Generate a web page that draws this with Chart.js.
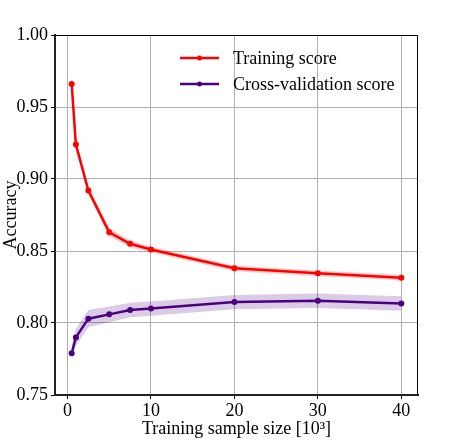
<!DOCTYPE html>
<html>
<head>
<meta charset="utf-8">
<script src="https://cdn.jsdelivr.net/npm/chart.js@4.4.0/dist/chart.umd.min.js"></script>
<style>
  html, body { margin: 0; padding: 0; background: #fff; }
  #wrap { width: 462px; height: 440px; }
</style>
</head>
<body>
<div id="wrap"><canvas id="curveChart" width="462" height="440"></canvas></div>
<script>
// === Data learning curve ===
const sampleSizes = [0.5, 1, 2.5, 5, 7.5, 10, 20, 30, 40];
const trainScore = [0.966, 0.924, 0.892, 0.863, 0.855, 0.851, 0.838, 0.8345, 0.8315];
const trainStd = [0.004, 0.003, 0.003, 0.003, 0.0025, 0.002, 0.002, 0.002, 0.002];
const cvScore = [0.779, 0.790, 0.803, 0.806, 0.809, 0.810, 0.8145, 0.8155, 0.8135];
const cvStd = [0.005, 0.006, 0.006, 0.0055, 0.005, 0.005, 0.005, 0.005, 0.005];
const xTicks = [0, 10, 20, 30, 40];
const yTicks = [0.75, 0.80, 0.85, 0.90, 0.95, 1.00];

const RED = "#ff0000";
const PURPLE = "#4b0082";
const FONT = "'Liberation Serif', 'DejaVu Serif', serif";

const pts = (ys) => sampleSizes.map((x, i) => ({ x: x, y: ys[i] }));
const band = (ys, sd, sign) => sampleSizes.map((x, i) => ({ x: x, y: ys[i] + sign * sd[i] }));

// legend custom di dalam area plot (garis + titik)
const insideLegend = {
  id: "insideLegend",
  afterDraw(chart) {
    const c = chart.ctx;
    const area = chart.chartArea;
    // kotak tipis atas & kanan
    c.save();
    c.strokeStyle = "#000";
    c.lineWidth = 1;
    c.beginPath();
    c.moveTo(area.left, area.top + 0.5);
    c.lineTo(area.right - 0.5, area.top + 0.5);
    c.lineTo(area.right - 0.5, area.bottom);
    c.stroke();

    const items = [
      { label: "Training score", color: RED },
      { label: "Cross-validation score", color: PURPLE }
    ];
    c.font = "18px " + FONT;
    c.textBaseline = "middle";
    items.forEach((it, i) => {
      const y = 58 + i * 26;
      c.strokeStyle = it.color;
      c.lineWidth = 2.5;
      c.beginPath();
      c.moveTo(180, y);
      c.lineTo(219, y);
      c.stroke();
      c.fillStyle = it.color;
      c.beginPath();
      c.arc(199.5, y, 2.5, 0, Math.PI * 2);
      c.fill();
      c.fillStyle = "#000";
      c.fillText(it.label, 233, y + 1);
    });
    c.restore();
  }
};

const ctx = document.getElementById("curveChart");
new Chart(ctx, {
  type: "line",
  data: {
    datasets: [
      {
        label: "Training score",
        data: pts(trainScore),
        borderColor: RED,
        backgroundColor: RED,
        borderWidth: 2.5,
        pointRadius: 3,
        pointBorderWidth: 0,
        pointHoverRadius: 3,
        fill: false
      },
      {
        label: "Cross-validation score",
        data: pts(cvScore),
        borderColor: PURPLE,
        backgroundColor: PURPLE,
        borderWidth: 2.5,
        pointRadius: 3,
        pointBorderWidth: 0,
        pointHoverRadius: 3,
        fill: false
      },
      {
        label: "train upper",
        data: band(trainScore, trainStd, 1),
        borderWidth: 0,
        pointRadius: 0,
        backgroundColor: "rgba(255, 0, 0, 0.2)",
        fill: "+1"
      },
      {
        label: "train lower",
        data: band(trainScore, trainStd, -1),
        borderWidth: 0,
        pointRadius: 0,
        fill: false
      },
      {
        label: "cv upper",
        data: band(cvScore, cvStd, 1),
        borderWidth: 0,
        pointRadius: 0,
        backgroundColor: "rgba(75, 0, 130, 0.2)",
        fill: "+1"
      },
      {
        label: "cv lower",
        data: band(cvScore, cvStd, -1),
        borderWidth: 0,
        pointRadius: 0,
        fill: false
      }
    ]
  },
  options: {
    responsive: false,
    animation: false,
    layout: { padding: { top: 35, right: 44, left: 0, bottom: 0 } },
    plugins: {
      legend: { display: false },
      tooltip: { enabled: false }
    },
    scales: {
      x: {
        type: "linear",
        min: -1.5,
        max: 42,
        afterBuildTicks: (s) => { s.ticks = xTicks.map(v => ({ value: v })); },
        afterFit: (s) => { s.height = 45; },
        ticks: {
          color: "#000",
          font: { family: FONT, size: 18 },
          padding: 1,
          maxRotation: 0
        },
        grid: { color: "#b0b0b0", lineWidth: 1, tickColor: "#000", tickLength: 4 },
        border: { color: "#222", width: 2 },
        title: {
          display: true,
          text: "Training sample size [10³]",
          color: "#000",
          font: { family: FONT, size: 18 },
          padding: { top: 3, bottom: 0 }
        }
      },
      y: {
        min: 0.75,
        max: 1.0,
        afterBuildTicks: (s) => { s.ticks = yTicks.map(v => ({ value: v })); },
        afterFit: (s) => { s.width = 55; },
        ticks: {
          color: "#000",
          font: { family: FONT, size: 18 },
          padding: 3,
          callback: (v) => v.toFixed(2)
        },
        grid: { color: "#b0b0b0", lineWidth: 1, tickColor: "#000", tickLength: 4 },
        border: { color: "#222", width: 2 },
        title: {
          display: true,
          text: "Accuracy",
          color: "#000",
          font: { family: FONT, size: 18 },
          padding: { top: 0, bottom: 0 }
        }
      }
    }
  },
  plugins: [insideLegend]
});
</script>
</body>
</html>
